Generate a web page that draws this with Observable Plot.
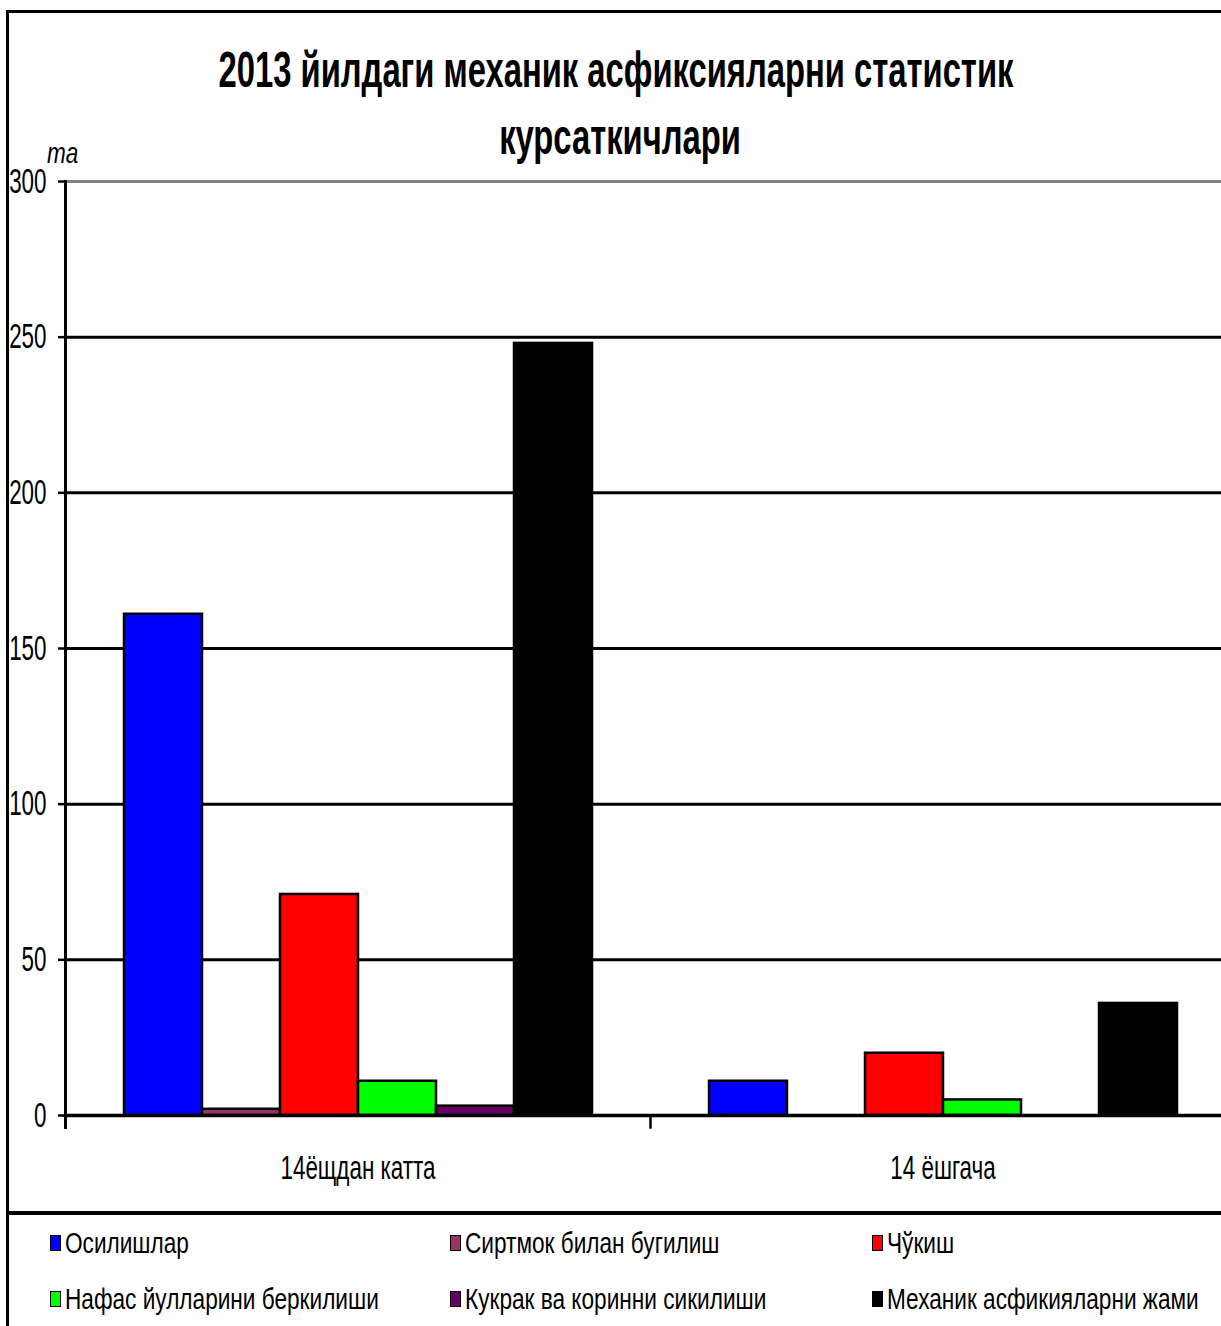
<!DOCTYPE html>
<html><head><meta charset="utf-8">
<script src="https://cdn.jsdelivr.net/npm/d3@7"></script>
<script src="https://cdn.jsdelivr.net/npm/@observablehq/plot@0.6"></script>
<style>
html,body{margin:0;padding:0;background:#fff;overflow:hidden;width:1221px;height:1326px;}
#wrap{position:relative;width:1221px;height:1326px;overflow:hidden;font-family:"Liberation Sans",Arial,sans-serif;color:#000;}
#border{position:absolute;left:6px;top:10px;width:1300px;height:1400px;border-left:3px solid #000;border-top:3px solid #000;box-sizing:border-box;}
#sep{position:absolute;left:6px;top:1211px;width:1300px;height:0;border-top:4px solid #000;}
.title{position:absolute;white-space:nowrap;font-weight:bold;font-size:50px;line-height:50px;transform:translateX(-50%) scaleX(0.655);}
#ma{position:absolute;left:47px;top:138px;font-style:italic;font-size:30px;line-height:30px;transform:scaleX(0.75);transform-origin:left;}
#chart{position:absolute;left:0;top:0;}
#chart svg{max-width:none !important;}
.leg{position:absolute;white-space:nowrap;font-size:29px;line-height:29px;}
.leg .sw{position:absolute;left:0;top:6px;width:9px;height:14px;border:1.5px solid #000;}
.leg .tx{position:absolute;left:15px;top:0;transform:scaleX(0.78);transform-origin:left;}
</style>
</head><body>
<div id="wrap">
  <div id="border"></div>
  <div class="title" style="left:616px;top:45px;">2013 йилдаги механик асфиксияларни статистик</div>
  <div class="title" style="left:620px;top:112px;">курсаткичлари</div>
  <div id="ma">ma</div>
  <div id="chart"></div>
  <div id="sep"></div>
  <div id="legend"></div>
</div>
<script>
const categories = ["14ёщдан катта", "14 ёшгача"];
const series = [
  "Осилишлар",
  "Сиртмок билан бугилиш",
  "Чўкиш",
  "Нафас йулларини беркилиши",
  "Кукрак ва коринни сикилиши",
  "Механик асфикияларни жами"
];
const valuesOver14 = [161, 2, 71, 11, 3, 248];
const valuesUnder14 = [11, 0, 20, 5, 0, 36];
const colors = ["#0000FF", "#993366", "#FF0000", "#00FF00", "#660066", "#000000"];
const yTicks = [0, 50, 100, 150, 200, 250, 300];

const groupValues = [valuesOver14, valuesUnder14];
const data = [];
categories.forEach((c, gi) => series.forEach((s, si) => {
  const v = groupValues[gi][si];
  if (v > 0) data.push({cat: c, series: s, value: v});
}));

const W = 1235, H = 1213, MT = 181, MB = 98, ML = 65;
const chart = Plot.plot({
  width: W, height: H,
  marginTop: MT, marginBottom: MB, marginLeft: ML, marginRight: 0,
  style: {fontFamily: "Liberation Sans, Arial, sans-serif", background: "transparent", overflow: "visible", color: "#000", maxWidth: "none"},
  fx: {domain: categories, padding: 0, label: null},
  x: {domain: series, paddingInner: 0, paddingOuter: 0.75, axis: null},
  y: {domain: [0, 300], axis: null},
  color: {domain: series, range: colors},
  marks: [
    Plot.ruleY(yTicks.filter(t => t > 0 && t < 300), {stroke: "#000", strokeWidth: 3}),
    Plot.ruleY([300], {stroke: "#808080", strokeWidth: 3}),
    Plot.barY(data, {fx: "cat", x: "series", y: "value", fill: "series", stroke: "#000", strokeWidth: 2.5}),
    Plot.ruleY([0], {stroke: "#000", strokeWidth: 3.5}),
    Plot.frame({anchor: "left", facetAnchor: "left", stroke: "#000", strokeWidth: 3, insetBottom: -12}),
    Plot.frame({anchor: "left", stroke: "#000", strokeWidth: 2.5, insetTop: H - MT - MB, insetBottom: -12}),
    Plot.axisY({ticks: yTicks, tickSize: 7, tickPadding: 12, fontSize: 35, stroke: "#000", strokeWidth: 2.5, label: null}),
    Plot.axisFx({anchor: "bottom", tickSize: 0, tickPadding: 40, fontSize: 33, label: null})
  ]
});
chart.querySelectorAll("text").forEach(t => {
  const tr = t.getAttribute("transform") || "";
  const isFx = t.closest('[aria-label^="fx-axis"]') !== null;
  t.setAttribute("transform", tr + (isFx ? " scale(0.68,1)" : " scale(0.64,1)"));
});
document.getElementById("chart").appendChild(chart);

// legend
const legCols = [50, 450, 872];
const legRows = [1229, 1285];
const legend = document.getElementById("legend");
series.forEach((s, i) => {
  const d = document.createElement("div");
  d.className = "leg";
  d.style.left = legCols[i % 3] + "px";
  d.style.top = legRows[Math.floor(i / 3)] + "px";
  const sw = document.createElement("div");
  sw.className = "sw";
  sw.style.background = colors[i];
  const tx = document.createElement("span");
  tx.className = "tx";
  tx.textContent = s;
  d.appendChild(sw); d.appendChild(tx);
  legend.appendChild(d);
});
</script>
</body></html>
